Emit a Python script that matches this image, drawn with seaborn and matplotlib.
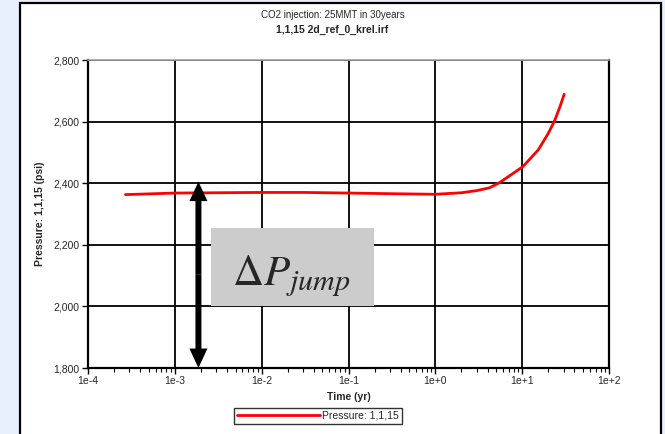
import numpy as np
import pandas as pd
import matplotlib
matplotlib.use("Agg")
import matplotlib.pyplot as plt
from matplotlib.patches import Rectangle
from matplotlib.ticker import FuncFormatter, LogLocator, FixedLocator
import seaborn as sns

# Данные
time_yr = [2.7e-4, 1e-3, 3e-3, 1e-2, 3e-2, 1e-1, 3e-1, 1.0, 2.0, 3.0, 4.2,
           5.5, 7.5, 10.2, 15.3, 20.0, 23.8, 27.2, 30.5]
pressure_psi = [2363, 2368, 2369, 2370, 2370, 2368, 2366, 2364, 2369, 2376, 2385,
                2402, 2428, 2454, 2508, 2562, 2605, 2648, 2689]
x_ticks = [1e-4, 1e-3, 1e-2, 1e-1, 1e0, 1e1, 1e2]
x_tick_labels = ["1e-4", "1e-3", "1e-2", "1e-1", "1e+0", "1e+1", "1e+2"]
y_ticks = [1800, 2000, 2200, 2400, 2600, 2800]

title_top = "CO2 injection: 25MMT in 30years"
title_file = "1,1,15 2d_ref_0_krel.irf"
series_name = "Pressure: 1,1,15"

df = pd.DataFrame({"Time (yr)": time_yr, "Pressure": pressure_psi})

sns.set_style("ticks")
plt.rcParams["font.family"] = ["Liberation Sans", "DejaVu Sans"]
plt.rcParams["mathtext.fontset"] = "stix"

fig = plt.figure(figsize=(6.65, 4.34), dpi=100, facecolor="#e8f1fb")
# белая панель с рамкой
fig.patches.append(Rectangle((20 / 665, -0.05), 641 / 665, 1.05 - 3.5 / 434,
                             transform=fig.transFigure, facecolor="white",
                             edgecolor="black", linewidth=1.6, zorder=-10))

ax = fig.add_axes([88 / 665, 1 - 368 / 434, 521 / 665, 308 / 434])
ax.set_zorder(1)
ax.set_facecolor("white")

sns.lineplot(data=df, x="Time (yr)", y="Pressure", color="#ff0000", linewidth=2,
             label=series_name, ax=ax, zorder=5)

ax.set_xscale("log")
ax.set_xlim(1e-4, 1e2)
ax.set_ylim(1800, 2800)
ax.xaxis.set_major_locator(FixedLocator(x_ticks))
ax.set_xticklabels(x_tick_labels)
ax.xaxis.set_minor_locator(LogLocator(base=10, subs=np.arange(2, 10), numticks=20))
ax.set_yticks(y_ticks)
ax.yaxis.set_major_formatter(FuncFormatter(lambda v, p: f"{int(v):,}"))

ax.grid(True, which="major", color="black", linewidth=1.3)
ax.tick_params(axis="both", which="major", labelsize=7.5, length=4, width=1,
               color="black", pad=2)
ax.tick_params(axis="x", which="minor", length=3, width=0.8, color="black")
for side in ["left", "bottom", "right"]:
    ax.spines[side].set_color("black")
    ax.spines[side].set_linewidth(1.6)
ax.spines["top"].set_color("#a0a0a0")
ax.spines["top"].set_linewidth(1.2)

ax.set_xlabel("Time (yr)", fontsize=7.5, fontweight="bold", labelpad=4)
ax.set_ylabel("Pressure: 1,1,15 (psi)", fontsize=7.5, fontweight="bold", labelpad=6)

fig.text(0.5, 1 - 15 / 434, title_top, ha="center", va="center", fontsize=7)
fig.text(0.5, 1 - 30 / 434, title_file, ha="center", va="center", fontsize=7.5,
         fontweight="bold")

# двусторонняя стрелка ΔP (две половинки от середины)
arrow_x = 1.87e-3
arrow_lo, arrow_hi = 1800, 2405
arrow_mid = (arrow_lo + arrow_hi) / 2
arrow_props = dict(facecolor="black", edgecolor="none", width=4.3,
                   headwidth=13, headlength=14, shrink=0)
for end in (arrow_lo, arrow_hi):
    ax.annotate("", xy=(arrow_x, end), xytext=(arrow_x, arrow_mid),
                arrowprops=arrow_props, zorder=6)

# серый блок с подписью
ax.add_patch(Rectangle(((211 - 88) / 521, (368 - 305.7) / 308), 163 / 521, 77.4 / 308,
                       transform=ax.transAxes, facecolor="#cccccc",
                       edgecolor="none", zorder=6))
ax.text((291 - 88) / 521, (368 - 276) / 308, r"$\Delta P_{jump}$",
        transform=ax.transAxes, ha="center", va="center", fontsize=31, zorder=7)

leg = ax.legend(loc="center", bbox_to_anchor=(318 / 665, 1 - 416 / 434),
                bbox_transform=fig.transFigure, fontsize=7.5, frameon=True,
                fancybox=False, edgecolor="black", handlelength=8,
                borderpad=0.3, handletextpad=0.2, borderaxespad=0)
leg.get_frame().set_linewidth(1)

fig.savefig("out.png", dpi=100, facecolor=fig.get_facecolor())
